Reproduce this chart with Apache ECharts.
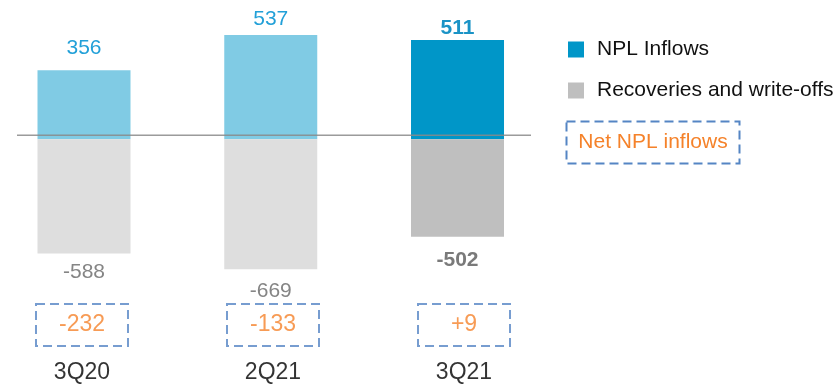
<!DOCTYPE html>
<html>
<head>
<meta charset="utf-8">
<script src="https://cdn.jsdelivr.net/npm/echarts@6/dist/echarts.min.js"></script>
<style>
  html, body { margin: 0; padding: 0; background: #ffffff; }
  #chart { width: 837px; height: 385px; }
</style>
</head>
<body>
<div id="chart"></div>
<script>
// Quarterly NPL flows (EUR m)
const categories = ['3Q20', '2Q21', '3Q21'];
const nplInflows = [356, 537, 511];
const recoveries = [-588, -669, -502];
const netInflows = [-232, -133, 9];
const seriesNames = ['NPL Inflows', 'Recoveries and write-offs'];
const netLegendText = 'Net NPL inflows';

const FONT = '"Liberation Sans", Arial, Helvetica, sans-serif';
const ORANGE = '#f5822a';
const DASH_BLUE = '#5585c4';
const current = categories.length - 1; // the latest quarter is emphasised

// gap between each bar end and its value label
const inflowLabelGap = [11, 5, 1];
const recoveryLabelGap = [8, 11, 13];

function inflowItem(v, i) {
  const hl = i === current;
  return {
    value: [i, v],
    itemStyle: { color: hl ? '#0096c8' : '#80cbe4' },
    label: {
      distance: inflowLabelGap[i],
      color: hl ? '#1a93c6' : '#22a0d8',
      fontWeight: hl ? 'bold' : 'normal'
    }
  };
}

function recoveryItem(v, i) {
  const hl = i === current;
  return {
    value: [i, v],
    itemStyle: { color: hl ? '#bfbfbf' : '#dedede' },
    label: {
      distance: recoveryLabelGap[i],
      color: hl ? '#7a7a7a' : '#858585',
      fontWeight: hl ? 'bold' : 'normal'
    }
  };
}

function fmtNet(v) {
  return v > 0 ? '+' + v : String(v);
}

const chart = echarts.init(document.getElementById('chart'), null, { renderer: 'canvas' });

chart.setOption({
  animation: false,
  backgroundColor: '#ffffff',
  textStyle: { fontFamily: FONT },
  legend: {
    data: seriesNames,
    orient: 'vertical',
    left: 563,
    top: 34,
    icon: 'rect',
    itemWidth: 16,
    itemHeight: 16,
    itemGap: 20,
    selectedMode: false,
    textStyle: {
      fontFamily: FONT,
      fontSize: 21,
      lineHeight: 21,
      color: '#111111',
      padding: [0, 0, 0, 8]
    }
  },
  grid: [
    { left: 0, width: 560, top: 3.3, height: 330.3 },
    { left: 0, width: 600, top: 303, height: 1 }
  ],
  xAxis: [
    // quarter slots: one unit per quarter, bars centred on 0, 1, 2
    { type: 'value', gridIndex: 0, min: -0.4498, max: 2.5488, show: false, splitLine: { show: false } },
    { type: 'value', gridIndex: 1, min: -0.4293, max: 2.7120, show: false, splitLine: { show: false } }
  ],
  yAxis: [
    { type: 'value', gridIndex: 0, min: -1000, max: 700, show: false, splitLine: { show: false } },
    { type: 'value', gridIndex: 1, min: 0, max: 1, show: false, splitLine: { show: false } }
  ],
  series: [
    {
      name: seriesNames[0],
      type: 'bar',
      xAxisIndex: 0,
      yAxisIndex: 0,
      barWidth: 93,
      barGap: '-100%',
      itemStyle: { color: '#0096c8' },
      label: {
        show: true,
        position: 'top',
        fontFamily: FONT,
        fontSize: 21,
        formatter: function (p) { return String(p.value[1]); }
      },
      data: nplInflows.map(inflowItem)
    },
    {
      name: seriesNames[1],
      type: 'bar',
      xAxisIndex: 0,
      yAxisIndex: 0,
      barWidth: 93,
      barGap: '-100%',
      itemStyle: { color: '#bfbfbf' },
      label: {
        show: true,
        position: 'bottom',
        fontFamily: FONT,
        fontSize: 21,
        formatter: function (p) { return String(p.value[1]); }
      },
      data: recoveries.map(recoveryItem)
    },
    {
      // net inflow boxes with the quarter name underneath
      name: netLegendText,
      type: 'scatter',
      xAxisIndex: 1,
      yAxisIndex: 1,
      symbolSize: 0,
      silent: true,
      label: {
        show: true,
        position: 'bottom',
        distance: 0,
        formatter: function (p) {
          return '{net|' + fmtNet(netInflows[p.dataIndex]) + '}\n{cat|' + categories[p.dataIndex] + '}';
        },
        rich: {
          net: {
            fontFamily: FONT,
            fontSize: 23,
            color: ORANGE,
            width: 92,
            height: 42,
            lineHeight: 42,
            align: 'center',
            borderColor: DASH_BLUE,
            borderWidth: 2,
            borderType: [9, 5]
          },
          cat: {
            fontFamily: FONT,
            fontSize: 23,
            color: '#000000',
            lineHeight: 54,
            align: 'center'
          }
        }
      },
      data: categories.map(function (c, i) { return [i, 0]; })
    }
  ]
});

// Separator rule just above the zero baseline, plus the dashed "net" key
const zeroY = chart.convertToPixel({ yAxisIndex: 0 }, 0);
chart.setOption({
  graphic: [
    {
      type: 'line',
      z: 10,
      shape: { x1: 17, y1: zeroY - 4, x2: 531, y2: zeroY - 4 },
      style: { stroke: '#8a8a8a', lineWidth: 1.5, opacity: 0.85 }
    },
    {
      type: 'group',
      x: 566.5,
      y: 121.5,
      children: [
        {
          type: 'rect',
          shape: { x: 0, y: 0, width: 173, height: 42 },
          style: { fill: 'none', stroke: DASH_BLUE, lineWidth: 2, lineDash: [9, 5] }
        },
        {
          type: 'text',
          x: 86.5,
          y: 21,
          style: {
            text: netLegendText,
            fill: ORANGE,
            font: '21px ' + FONT,
            align: 'center',
            verticalAlign: 'middle'
          }
        }
      ]
    }
  ]
});
</script>
</body>
</html>
